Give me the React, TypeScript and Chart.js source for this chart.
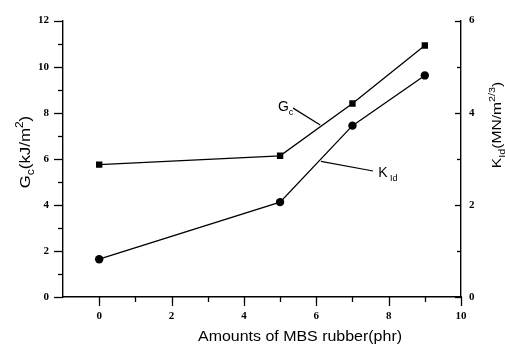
import React, { useEffect, useRef } from "react";
import { Chart, registerables } from "chart.js";

Chart.register(...registerables);

// ---- data ----
const amounts = [0, 5, 7, 9]; // MBS rubber (phr)
const gcValues = [5.75, 6.13, 8.4, 10.92]; // Gc (kJ/m2), left axis
const kidValues = [0.82, 2.06, 3.72, 4.81]; // KId (MN/m^3/2), right axis

const xTickValues = [0, 1, 2, 3, 4, 5, 6, 7, 8, 9, 10];
const xTickLabels = ["0", "2", "4", "6", "8", "10"];
const leftTickValues = [0, 1, 2, 3, 4, 5, 6, 7, 8, 9, 10, 11, 12];
const rightTickValues = [0, 1, 2, 3, 4, 5, 6];

// annotation anchors in data units (x, left-axis y)
const gcLabelPos = { x: 4.94, y: 8.07 };
const gcLeader = [
  { x: 5.36, y: 8.2 },
  { x: 6.11, y: 7.47 },
];
const kLabelPos = { x: 7.71, y: 5.21 };
const kLeader = [
  { x: 6.13, y: 5.89 },
  { x: 7.57, y: 5.47 },
];

const SANS = '"Liberation Sans", Arial, sans-serif';
const SERIF = '"Liberation Serif", "Times New Roman", serif';

type Part = { t: string; size: number; dy: number };

function partsWidth(ctx: CanvasRenderingContext2D, parts: Part[]) {
  let w = 0;
  for (const p of parts) {
    ctx.font = `${p.size}px ${SANS}`;
    w += ctx.measureText(p.t).width;
  }
  return w;
}

function drawParts(
  ctx: CanvasRenderingContext2D,
  parts: Part[],
  x: number,
  y: number,
  align: "left" | "center",
  stretch = 1
) {
  ctx.save();
  ctx.translate(x, y);
  ctx.scale(stretch, 1);
  const total = partsWidth(ctx, parts);
  let cx = align === "center" ? -total / 2 : 0;
  ctx.textAlign = "left";
  ctx.textBaseline = "alphabetic";
  ctx.fillStyle = "#000";
  for (const p of parts) {
    ctx.font = `${p.size}px ${SANS}`;
    ctx.fillText(p.t, cx, p.dy);
    cx += ctx.measureText(p.t).width;
  }
  ctx.restore();
}

const decorPlugin = {
  id: "decor",
  afterDraw(chart: any) {
    const ctx: CanvasRenderingContext2D = chart.ctx;
    const xs = chart.scales.x;
    const ys = chart.scales.y;
    const y1 = chart.scales.y1;
    const area = chart.chartArea;
    ctx.save();
    ctx.strokeStyle = "#000";
    ctx.lineWidth = 1.3;
    // left ticks (outward)
    for (const v of leftTickValues) {
      const py = Math.round(ys.getPixelForValue(v)) + 0.5;
      const len = v % 2 === 0 ? 9 : 5;
      ctx.beginPath();
      ctx.moveTo(area.left - len, py);
      ctx.lineTo(area.left, py);
      ctx.stroke();
    }
    // bottom ticks (outward)
    for (const v of xTickValues) {
      const px = Math.round(xs.getPixelForValue(v)) + 0.5;
      const len = v % 2 === 0 ? 9 : 5;
      ctx.beginPath();
      ctx.moveTo(px, area.bottom);
      ctx.lineTo(px, area.bottom + len);
      ctx.stroke();
    }
    // right ticks (inward)
    for (const v of rightTickValues) {
      const py = Math.round(y1.getPixelForValue(v)) + 0.5;
      const len = v % 2 === 0 ? 6 : 4;
      ctx.beginPath();
      ctx.moveTo(area.right - len, py);
      ctx.lineTo(area.right, py);
      ctx.stroke();
    }

    // leader lines
    ctx.lineWidth = 1.2;
    for (const seg of [gcLeader, kLeader]) {
      ctx.beginPath();
      ctx.moveTo(xs.getPixelForValue(seg[0].x), ys.getPixelForValue(seg[0].y));
      ctx.lineTo(xs.getPixelForValue(seg[1].x), ys.getPixelForValue(seg[1].y));
      ctx.stroke();
    }
    // in-plot labels
    drawParts(
      ctx,
      [
        { t: "G", size: 14, dy: 0 },
        { t: "c", size: 9, dy: 4 },
      ],
      xs.getPixelForValue(gcLabelPos.x),
      ys.getPixelForValue(gcLabelPos.y),
      "left"
    );
    drawParts(
      ctx,
      [
        { t: "K", size: 14, dy: 0 },
        { t: " Id", size: 9, dy: 4 },
      ],
      xs.getPixelForValue(kLabelPos.x),
      ys.getPixelForValue(kLabelPos.y),
      "left"
    );

    // x title
    drawParts(
      ctx,
      [{ t: "Amounts of MBS rubber(phr)", size: 14, dy: 0 }],
      300,
      341,
      "center",
      1.14
    );

    // left title (rotated)
    ctx.save();
    ctx.translate(30, 152);
    ctx.rotate(-Math.PI / 2);
    drawParts(
      ctx,
      [
        { t: "G", size: 14, dy: 0 },
        { t: "c", size: 10, dy: 4 },
        { t: "(kJ/m", size: 14, dy: 0 },
        { t: "2", size: 10, dy: -7 },
        { t: ")", size: 14, dy: 0 },
      ],
      0,
      0,
      "center",
      1.2
    );
    ctx.restore();

    // right title (rotated)
    ctx.save();
    ctx.translate(501, 125);
    ctx.rotate(-Math.PI / 2);
    drawParts(
      ctx,
      [
        { t: "K", size: 13, dy: 0 },
        { t: "Id", size: 9, dy: 4 },
        { t: "(MN/m", size: 13, dy: 0 },
        { t: "2/3", size: 9, dy: -6 },
        { t: ")", size: 13, dy: 0 },
      ],
      0,
      0,
      "center",
      1.2
    );
    ctx.restore();

    ctx.restore();
  },
};

export default function App() {
  const ref = useRef<HTMLCanvasElement | null>(null);

  useEffect(() => {
    document.body.style.margin = "0";
    const canvas = ref.current;
    if (!canvas) return;
    const tickFont = { family: SERIF, size: 11, weight: "bold" as const };
    const chart = new Chart(canvas, {
      type: "line",
      data: {
        datasets: [
          {
            label: "Gc",
            data: amounts.map((a, i) => ({ x: a, y: gcValues[i] })),
            yAxisID: "y",
            borderColor: "#000",
            backgroundColor: "#000",
            borderWidth: 1.3,
            pointStyle: "rect",
            pointRadius: 4.5,
            pointBorderWidth: 0,
            tension: 0,
          },
          {
            label: "KId",
            data: amounts.map((a, i) => ({ x: a, y: kidValues[i] })),
            yAxisID: "y1",
            borderColor: "#000",
            backgroundColor: "#000",
            borderWidth: 1.3,
            pointStyle: "circle",
            pointRadius: 4.2,
            pointBorderWidth: 0,
            tension: 0,
          },
        ],
      },
      options: {
        responsive: false,
        maintainAspectRatio: false,
        animation: false,
        layout: { padding: { top: 16, left: 0, right: 0, bottom: 0 } },
        plugins: {
          legend: { display: false },
          tooltip: { enabled: false },
          title: { display: false },
        },
        scales: {
          x: {
            type: "linear",
            min: -1,
            max: 10,
            grid: { display: false, drawTicks: false },
            border: { display: true, color: "#000", width: 1.4 },
            ticks: {
              stepSize: 1,
              autoSkip: false,
              maxRotation: 0,
              padding: 13,
              color: "#000",
              font: tickFont,
              callback: (v: any) =>
                xTickLabels.includes(String(v)) ? String(v) : "",
            },
            afterFit: (s: any) => {
              s.height = 50;
            },
          },
          y: {
            type: "linear",
            position: "left",
            min: 0,
            max: 12,
            grid: { display: false, drawTicks: false },
            border: { display: true, color: "#000", width: 1.4 },
            ticks: {
              stepSize: 1,
              autoSkip: false,
              padding: 14,
              color: "#000",
              font: tickFont,
              callback: (v: any) => (Number(v) % 2 === 0 ? String(v) : ""),
            },
            afterFit: (s: any) => {
              s.width = 63;
            },
          },
          y1: {
            type: "linear",
            position: "right",
            min: 0,
            max: 6,
            grid: { display: false, drawTicks: false },
            border: { display: true, color: "#000", width: 1.4 },
            ticks: {
              stepSize: 1,
              autoSkip: false,
              padding: 8,
              color: "#000",
              font: tickFont,
              callback: (v: any) => (Number(v) % 2 === 0 ? String(v) : ""),
            },
            afterFit: (s: any) => {
              s.width = 44;
            },
          },
        },
      },
      plugins: [decorPlugin],
    });
    return () => chart.destroy();
  }, []);

  return (
    <div style={{ width: 505, height: 347, background: "#fff" }}>
      <canvas ref={ref} width={505} height={347} style={{ display: "block" }} />
    </div>
  );
}
